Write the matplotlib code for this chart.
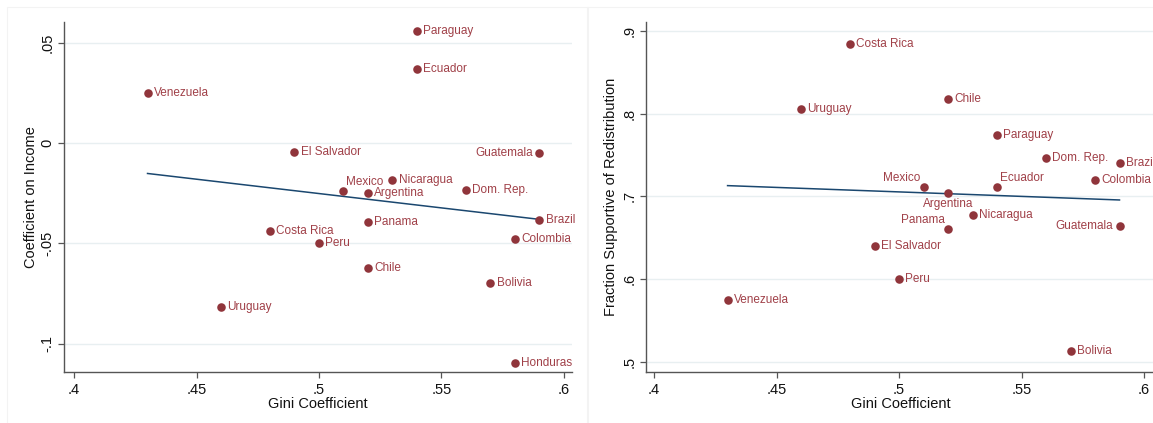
import numpy as np
import matplotlib
matplotlib.use("Agg")
import matplotlib.pyplot as plt
from matplotlib.patches import Rectangle

plt.rcParams['font.family'] = ['Liberation Sans', 'DejaVu Sans']

countries = ['Venezuela', 'Uruguay', 'Costa Rica', 'El Salvador', 'Peru', 'Mexico',
             'Argentina', 'Panama', 'Chile', 'Nicaragua', 'Paraguay', 'Ecuador',
             'Dom. Rep.', 'Bolivia', 'Colombia', 'Honduras', 'Brazil', 'Guatemala']
gini = [0.43, 0.46, 0.48, 0.49, 0.50, 0.51,
        0.52, 0.52, 0.52, 0.53, 0.54, 0.54,
        0.56, 0.57, 0.58, 0.58, 0.59, 0.59]
coef_income = [0.0247, -0.0814, -0.0438, -0.0043, -0.0499, -0.0240,
               -0.0250, -0.0395, -0.0624, -0.0184, 0.0557, 0.0368,
               -0.0235, -0.0698, -0.0479, -0.1093, -0.0381, -0.0051]
frac_support = [0.5755, 0.8053, 0.8836, 0.6402, 0.6005, 0.7113,
                0.7040, 0.6603, 0.8177, 0.6780, 0.7735, 0.7113,
                0.7466, 0.5137, 0.7197, np.nan, 0.7398, 0.6643]

x_ticks = [0.40, 0.45, 0.50, 0.55, 0.60]
x_tick_labels = ['.4', '.45', '.5', '.55', '.6']
left_y_ticks = [-0.10, -0.05, 0.0, 0.05]
left_y_tick_labels = ['-.1', '-.05', '0', '.05']
right_y_ticks = [0.5, 0.6, 0.7, 0.8, 0.9]
right_y_tick_labels = ['.5', '.6', '.7', '.8', '.9']

# marker label placement (clock positions), default is 3 o'clock
left_pos = {'Guatemala': 9, 'Mexico': 1}
right_pos = {'Guatemala': 9, 'Mexico': 11, 'Ecuador': 1, 'Argentina': 6, 'Panama': 11}

MAROON = '#90353B'
LABEL = '#A04048'
NAVY = '#1A476F'
GRID = '#E8EFF1'
AXIS = '#555555'

offsets = {
    3: ((4.5, 0), 'left', 'center'),
    9: ((-4.5, 0), 'right', 'center'),
    1: ((2, 6.5), 'left', 'center'),
    11: ((-2, 6.5), 'right', 'center'),
    6: ((0, -8), 'center', 'center'),
}

W, H = 1153, 423
fig = plt.figure(figsize=(W / 100, H / 100), dpi=100)

# light panel frames
for x0, x1 in [(7, 588), (587, 1160)]:
    fig.add_artist(Rectangle((x0 / W, -0.05), (x1 - x0) / W, 1.05 - 7 / H,
                             transform=fig.transFigure, fill=False,
                             edgecolor='#F3F3F3', lw=0.8, zorder=0))


def panel(ax, y, pos, yticks, ylabels, ylabel):
    x = np.array(gini)
    y = np.array(y)
    ok = ~np.isnan(y)
    for v in yticks:
        ax.axhline(v, color=GRID, lw=1.0, zorder=0)
    b, a = np.polyfit(x[ok], y[ok], 1)
    xs = np.array([x[ok].min(), x[ok].max()])
    ax.plot(xs, a + b * xs, color=NAVY, lw=1.1, zorder=2)
    ax.scatter(x[ok], y[ok], s=38, color=MAROON, zorder=3, linewidths=0)
    for name, xi, yi in zip(countries, x, y):
        if np.isnan(yi):
            continue
        off, ha, va = offsets[pos.get(name, 3)]
        ax.annotate(name, (xi, yi), xytext=off, textcoords='offset points',
                    ha=ha, va=va, fontsize=8.5, color=LABEL,
                    annotation_clip=False, clip_on=False)
    ax.set_xticks(x_ticks)
    ax.set_xticklabels(x_tick_labels)
    ax.set_yticks(yticks)
    ax.set_yticklabels(ylabels, rotation=90, va='center')
    for s in ['top', 'right']:
        ax.spines[s].set_visible(False)
    for s in ['left', 'bottom']:
        ax.spines[s].set_color(AXIS)
        ax.spines[s].set_linewidth(1.0)
    ax.tick_params(length=4, width=0.9, color=AXIS, labelsize=10.5, labelcolor='#111111')
    ax.tick_params(axis='x', pad=4)
    ax.tick_params(axis='y', pad=3)
    ax.set_xlabel('Gini Coefficient', fontsize=10.5, color='#111111')
    ax.set_ylabel(ylabel, fontsize=10.5, color='#111111')
    ax.xaxis.set_label_coords(0.5, -0.07)


ax1 = fig.add_axes([64 / W, 51 / H, 508 / W, 350 / H])
panel(ax1, coef_income, left_pos, left_y_ticks, left_y_tick_labels, 'Coefficient on Income')
ax1.set_xlim(0.3959, 0.6033)
ax1.set_ylim(-0.114, 0.0603)
ax1.yaxis.set_label_coords(-0.051, 0.5)

ax2 = fig.add_axes([646 / W, 51 / H, 510 / W, 350 / H])
panel(ax2, frac_support, right_pos, right_y_ticks, right_y_tick_labels,
      'Fraction Supportive of Redistribution')
ax2.set_xlim(0.3967, 0.6049)
ax2.set_ylim(0.488, 0.9105)
ax2.yaxis.set_label_coords(-0.055, 0.5)

fig.savefig('out.png', dpi=100)
